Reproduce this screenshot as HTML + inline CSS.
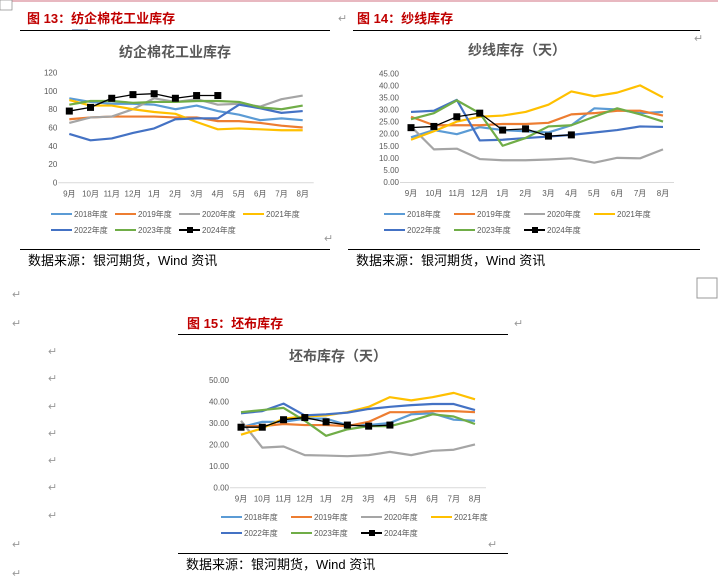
<!DOCTYPE html>
<html><head><meta charset="utf-8">
<style>
body{margin:0;background:#fff;width:718px;height:580px;overflow:hidden;font-family:"Liberation Sans","Noto Sans CJK SC",sans-serif;}
svg{position:absolute;left:0;top:0}
</style></head>
<body>
<svg id="s" width="718" height="580" xmlns="http://www.w3.org/2000/svg" font-family="Liberation Sans, Noto Sans CJK SC, sans-serif">
<rect x="0" y="0" width="718" height="2" fill="#e8b8c0"/>
<rect x="0" y="0" width="12" height="10" fill="#fff" stroke="#888" stroke-width="0.7"/>
<text x="27" y="23" font-size="13" font-weight="bold" fill="#c00000">图 13：纺企棉花工业库存</text>
<line x1="72" y1="30" x2="88" y2="30" stroke="#2f5597" stroke-width="1"/>
<line x1="20" y1="30.5" x2="330" y2="30.5" stroke="#000"/>
<text x="357" y="23" font-size="13" font-weight="bold" fill="#c00000">图 14：纱线库存</text>
<line x1="353" y1="30.5" x2="700" y2="30.5" stroke="#000"/>
<text x="187" y="328" font-size="13" font-weight="bold" fill="#c00000">图 15：坯布库存</text>
<line x1="178" y1="334.5" x2="508" y2="334.5" stroke="#000"/>
<line x1="20" y1="249.5" x2="330" y2="249.5" stroke="#000"/>
<text x="28" y="265" font-size="13" fill="#000">数据来源：银河期货，Wind 资讯</text>
<line x1="348" y1="249.5" x2="700" y2="249.5" stroke="#000"/>
<text x="356" y="265" font-size="13" fill="#000">数据来源：银河期货，Wind 资讯</text>
<line x1="178" y1="553.5" x2="508" y2="553.5" stroke="#000"/>
<text x="186" y="569" font-size="13" fill="#000">数据来源：银河期货，Wind 资讯</text>
<rect x="697" y="278" width="20" height="20" fill="none" stroke="#999"/>
<g font-size="11" fill="#999">
<text x="12" y="298">↵</text><text x="12" y="327">↵</text><text x="48" y="355">↵</text><text x="48" y="382">↵</text>
<text x="48" y="410">↵</text><text x="48" y="437">↵</text><text x="48" y="464">↵</text><text x="48" y="491">↵</text>
<text x="48" y="519">↵</text><text x="12" y="548">↵</text><text x="12" y="577">↵</text><text x="514" y="327">↵</text>
<text x="488" y="548">↵</text><text x="338" y="22">↵</text><text x="324" y="242">↵</text><text x="694" y="42">↵</text>
</g>
</svg>
<script>
const months=["9月","10月","11月","12月","1月","2月","3月","4月","5月","6月","7月","8月"];
const seriesNames=["2018年度","2019年度","2020年度","2021年度","2022年度","2023年度","2024年度"];
const c1_2018=[92,88,86,86,85,80,84,78,74,68,70,68];
const c1_2019=[69,71,72,72,72,71,71,67,67,65,62,60];
const c1_2020=[65,71,72,80,92,88,91,85,86,83,91,95];
const c1_2021=[90,84,84,80,77,75,66,58,59,58,57,57];
const c1_2022=[53,46,48,54,59,69,70,70,85,81,76,78];
const c1_2023=[85,89,89,87,88,88,89,89,88,82,80,84];
const c1_2024=[78,82,92,96,97,92,95,95];
const c1_ticks=["0","20","40","60","80","100","120"];
const c2_2018=[18.5,21.5,19.8,22.7,21.5,21,20.5,23.5,30.5,30,28.5,29];
const c2_2019=[27,23.5,23.5,23.5,24,24,24.5,28,28.5,29.5,29.5,27.5];
const c2_2020=[23,13.5,13.8,9.5,9,9,9.3,9.8,8,10,9.8,13.5];
const c2_2021=[17.5,21,25,27,27.5,29,32,37.5,35.5,37,40,35];
const c2_2022=[29,29.5,34,17.2,17.5,18.2,18.8,19.5,20.5,21.5,23,22.8];
const c2_2023=[26,28.5,33.8,28.5,15,18.2,23,23.5,27,30.5,28,25];
const c2_2024=[22.5,23,27,28.5,21.5,22,19,19.5];
const c2_ticks=["0.00","5.00","10.00","15.00","20.00","25.00","30.00","35.00","40.00","45.00"];
const c3_2018=[28,30.5,30.5,32,32,29,29,30,34,34.5,31.5,31];
const c3_2019=[28.5,28.5,29.5,29,29,28.5,30.5,35,35,35.5,35.5,35];
const c3_2020=[31,18.5,19,15,14.8,14.5,15,16.5,15,17,17.5,20];
const c3_2021=[24.5,27.5,32,33,33.5,35,37.5,42,40.5,42,44,41];
const c3_2022=[34.5,35.5,39,33.5,34,34.8,36.5,37.5,38.3,38.8,38.8,36];
const c3_2023=[35,36,37,31,24,27,28.5,28.5,31,34,33,29.5];
const c3_2024=[28,28,31.5,32.5,30.5,29,28.5,29];
const c3_ticks=["0.00","10.00","20.00","30.00","40.00","50.00"];
const colors=["#5B9BD5","#ED7D31","#A5A5A5","#FFC000","#4472C4","#70AD47","#000000"];
const NS="http://www.w3.org/2000/svg";
const svg=document.getElementById('s');
function mk(tag,attrs,parent){const e=document.createElementNS(NS,tag);for(const k in attrs)e.setAttribute(k,attrs[k]);(parent||svg).appendChild(e);return e;}
function chart(cfg){
  const g=mk('g',{});
  
  
  const xs=i=>cfg.x0+i*(cfg.x1-cfg.x0)/11;
  const ys=v=>cfg.y0-(v/cfg.max)*(cfg.y0-cfg.yTop);
  const t=mk('text',{x:cfg.tx,y:cfg.ty,'font-size':14,'font-weight':'bold',fill:'#595959','text-anchor':'middle'},g);
  t.textContent=cfg.title;
  
  
  cfg.ticks.forEach((lab,i)=>{
    const v=i*cfg.max/(cfg.ticks.length-1);
    const tt=mk('text',{x:cfg.x0-12,y:ys(v)+3,'font-size':8,fill:'#595959','text-anchor':'end'},g);
    tt.textContent=lab;
    
    
  });
  const ax=mk('line',{x1:cfg.x0-11,x2:cfg.x1+11,y1:cfg.y0+0.5,y2:cfg.y0+0.5,stroke:'#d9d9d9'},g);
  
  
  months.forEach((m,i)=>{
    const tt=mk('text',{x:xs(i),y:cfg.y0+14,'font-size':8,fill:'#595959','text-anchor':'middle'},g);
    tt.textContent=m;
    
    
  });
  cfg.series.forEach((d,si)=>{
    const p=mk('polyline',{points:d.map((v,i)=>xs(i)+','+ys(v)).join(' '),fill:'none',stroke:colors[si],'stroke-width':si==6?1.3:2.2,'stroke-linejoin':'round'},g);
    
    
    if(si==6)d.forEach((v,i)=>{
      const r=mk('rect',{x:xs(i)-3.5,y:ys(v)-3.5,width:7,height:7,fill:'#000'},g);
      
      
    });
  });
  seriesNames.forEach((n,i)=>{
    const lx=cfg.lx+(i%4)*cfg.ls, ly=cfg.ly+Math.floor(i/4)*16;
    const lg=mk('g',{},g);
    
    
    mk('line',{x1:lx,x2:lx+21,y1:ly,y2:ly,stroke:colors[i],'stroke-width':2},lg);
    if(i==6)mk('rect',{x:lx+8,y:ly-3,width:6,height:6,fill:'#000'},lg);
    const tt=mk('text',{x:lx+23,y:ly+3,'font-size':8,fill:'#595959'},lg);
    tt.textContent=n;
  });
}
chart({name:'chart-cotton-inventory',title:'纺企棉花工业库存',tx:175,ty:57,x0:69.3,x1:302.7,y0:182.3,yTop:72.7,max:120,ticks:c1_ticks,
  series:[c1_2018,c1_2019,c1_2020,c1_2021,c1_2022,c1_2023,c1_2024],lx:51,ls:64,ly:214});
chart({name:'chart-yarn-inventory',title:'纱线库存（天）',tx:517,ty:55,x0:411,x1:663,y0:182,yTop:73.3,max:45,ticks:c2_ticks,
  series:[c2_2018,c2_2019,c2_2020,c2_2021,c2_2022,c2_2023,c2_2024],lx:384,ls:70,ly:214});
chart({name:'chart-greige-inventory',title:'坯布库存（天）',tx:338,ty:361,x0:241,x1:475,y0:487.3,yTop:380,max:50,ticks:c3_ticks,
  series:[c3_2018,c3_2019,c3_2020,c3_2021,c3_2022,c3_2023,c3_2024],lx:221,ls:70,ly:517});
</script>
</body></html>
